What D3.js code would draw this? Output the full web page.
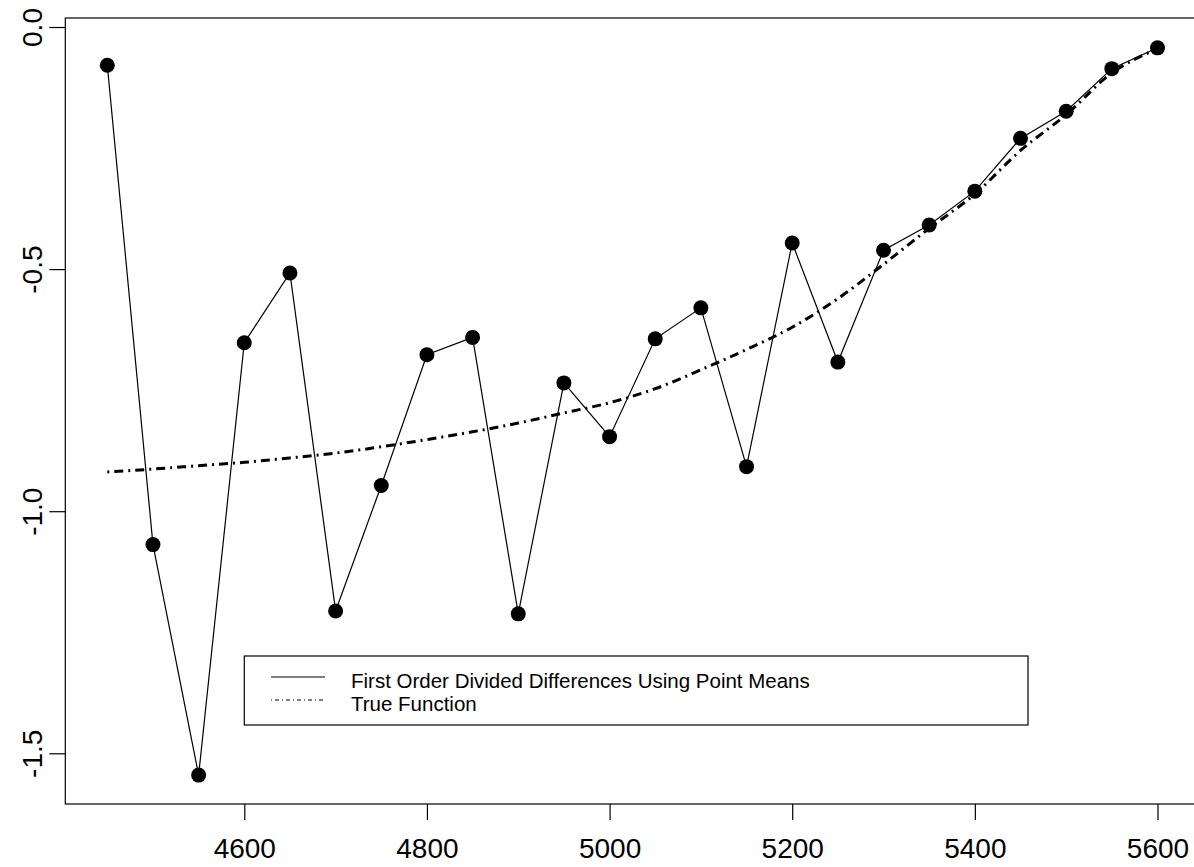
<!DOCTYPE html>
<head>
  <meta charset="utf-8">
  <script src="https://d3js.org/d3.v7.min.js"></script>
  <style>
    body { margin: 0; background: #fff; }
    text { font-family: "Liberation Sans", Arial, sans-serif; fill: #000; }
    .line { fill: none; stroke: black; }
  </style>
</head>

<body>
  <script>

    // values
    var xs = [4450, 4500, 4550, 4600, 4650, 4700, 4750, 4800, 4850, 4900, 4950, 5000,
              5050, 5100, 5150, 5200, 5250, 5300, 5350, 5400, 5450, 5500, 5550, 5600];
    var divDiff = [-0.079, -1.069, -1.545, -0.652, -0.508, -1.206, -0.947, -0.677, -0.641, -1.212, -0.735, -0.846,
                   -0.644, -0.580, -0.908, -0.446, -0.692, -0.461, -0.409, -0.339, -0.230, -0.174, -0.086, -0.043];
    var trueFn = [-0.919, -0.913, -0.906, -0.899, -0.890, -0.880, -0.867, -0.852, -0.836, -0.818, -0.797, -0.776,
                  -0.747, -0.708, -0.666, -0.620, -0.561, -0.490, -0.416, -0.345, -0.255, -0.181, -0.095, -0.045];
    var xTicks = [4600, 4800, 5000, 5200, 5400, 5600];
    var yTicks = [0, -0.5, -1.0, -1.5];
    var legendLabels = ["First Order Divided Differences Using Point Means", "True Function"];

    var W = 1194, H = 867;
    var mLeft = 65.3, mRight = 1199.5, mTop = 18, mBottom = 804;

    var svg = d3.select("body").append("svg")
      .attr("width", W)
      .attr("height", H);

    // R style 4% padding around the data range
    var x = d3.scaleLinear().domain([4404, 5646]).range([mLeft, mRight]);
    var y = d3.scaleLinear().domain([-1.6047, 0.0186]).range([mBottom, mTop]);

    var pts = xs.map(function(d, i) { return {x: d, y: divDiff[i]}; });
    var tru = xs.map(function(d, i) { return {x: d, y: trueFn[i]}; });

    var line = d3.line()
        .x(function(d) { return x(d.x); })
        .y(function(d) { return y(d.y); });

    // true function, thick dot-dash
    svg.append("path").datum(tru)
      .attr("class", "line")
      .attr("d", line.curve(d3.curveMonotoneX))
      .attr("stroke-width", 3)
      .attr("stroke-dasharray", "2,5,9,5");

    line.curve(d3.curveLinear);
    svg.append("path").datum(pts)
      .attr("class", "line")
      .attr("d", line)
      .attr("stroke-width", 1.2);

    svg.selectAll(".pt").data(pts).enter()
     .append("circle")
      .attr("class", "pt")
      .attr("cx", function(d) { return x(d.x); })
      .attr("cy", function(d) { return y(d.y); })
      .attr("r", 7.5)
      .style("fill", "#000");

    // box
    svg.append("rect")
      .attr("x", mLeft).attr("y", mTop)
      .attr("width", mRight - mLeft).attr("height", mBottom - mTop)
      .attr("fill", "none").attr("stroke", "#000").attr("stroke-width", 1.2);

    var gx = svg.append("g")
      .attr("transform", "translate(0," + mBottom + ")")
      .call(d3.axisBottom(x).tickValues(xTicks).tickSize(16).tickPadding(0).tickFormat(d3.format("d")));
    gx.select(".domain").remove();
    gx.selectAll("line").attr("stroke-width", 1.2);
    gx.selectAll("text")
      .attr("y", 54).attr("dy", 0)
      .style("font-size", "28px")
      .style("font-family", "'Liberation Sans', Arial, sans-serif");

    var gy = svg.append("g")
      .attr("transform", "translate(" + mLeft + ",0)")
      .call(d3.axisLeft(y).tickValues(yTicks).tickSize(16));
    gy.select(".domain").remove();
    gy.selectAll("line").attr("stroke-width", 1.2);
    gy.selectAll("text")
      .attr("transform", "rotate(-90)")
      .attr("x", 0).attr("y", -23.3).attr("dy", 0)
      .attr("text-anchor", "middle")
      .text(function(d) { return d3.format(".1f")(d).replace("\u2212", "-"); })
      .style("font-size", "28px")
      .style("font-family", "'Liberation Sans', Arial, sans-serif");

    // legend
    var lg = svg.append("g");
    lg.append("rect")
      .attr("x", 244.3).attr("y", 656)
      .attr("width", 1028 - 244.3).attr("height", 69)
      .attr("fill", "#fff").attr("stroke", "#000").attr("stroke-width", 1.2);
    lg.selectAll(".lgl").data(legendLabels).enter()
     .append("line")
      .attr("x1", 271).attr("x2", 325)
      .attr("y1", function(d, i) { return 677 + i * 23; })
      .attr("y2", function(d, i) { return 677 + i * 23; })
      .attr("stroke", "#000")
      .attr("stroke-width", 1.2)
      .attr("stroke-dasharray", function(d, i) { return i ? "1,3,4,3" : null; });
    lg.selectAll(".lgt").data(legendLabels).enter()
     .append("text")
      .attr("x", 351)
      .attr("y", function(d, i) { return 688 + i * 22.5; })
      .style("font-size", "20.5px")
      .text(function(d) { return d; });

  </script>
</body>
